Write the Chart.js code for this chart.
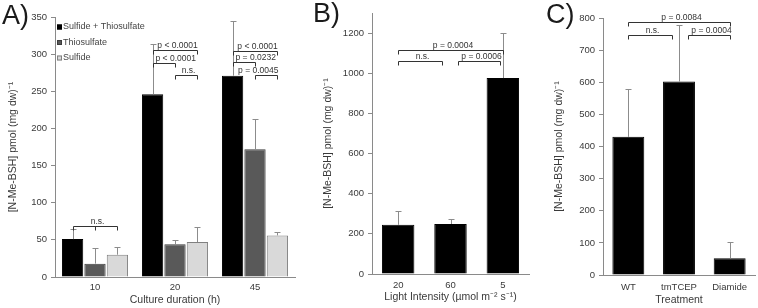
<!DOCTYPE html>
<html>
<head>
<meta charset="utf-8">
<script src="https://cdn.jsdelivr.net/npm/chart.js@4.4.1/dist/chart.umd.min.js"></script>
<style>
  body { margin: 0; background: #fff; width: 758px; height: 308px; position: relative; overflow: hidden;
         font-family: "Liberation Sans", Arial, sans-serif; }
  canvas { position: absolute; top: 0; }
  .tag { position: absolute; font-size: 27px; line-height: 1; color: #1a1a1a; }
</style>
</head>
<body>
<canvas id="chartA" width="300" height="308" style="left:0px"></canvas>
<canvas id="chartB" width="235" height="308" style="left:300px"></canvas>
<canvas id="chartC" width="223" height="308" style="left:535px"></canvas>
<div class="tag" style="left:2px;top:2px">A)</div>
<div class="tag" style="left:313px;top:0px">B)</div>
<div class="tag" style="left:546px;top:1px">C)</div>
<script>
// Panel A - culture duration
const durations = ["10", "20", "45"];
const bothValues = [51, 246, 271];
const bothErrors = [14, 68, 74];
const thioValues = [18, 44, 172];
const thioErrors = [21, 6, 41];
const sulfideValues = [30, 47, 56];
const sulfideErrors = [10, 20, 5];
const yTicksA = [0, 350, 50];

// Panel B - light intensity
const intensities = ["20", "60", "5"];
const lightValues = [245, 249, 976];
const lightErrors = [69, 25, 224];
const yTicksB = [0, 1200, 200];

// Panel C - treatment
const treatments = ["WT", "tmTCEP", "Diamide"];
const treatValues = [430, 602, 52];
const treatErrors = [148, 175, 50];
const yTicksC = [0, 800, 100];

// significance brackets: [category, dataset] ends, level in data units
const bracketsA = [
  {from: [0, 0], to: [0, 2], mid: [0, 1], level: 69, text: "n.s."},
  {from: [1, 0], to: [1, 2], level: 305, text: "p < 0.0001"},
  {from: [1, 0], to: [1, 1], level: 288, text: "p < 0.0001", align: "left"},
  {from: [1, 1], to: [1, 2], level: 272, text: "n.s."},
  {from: [2, 0], to: [2, 2], level: 304, text: "p < 0.0001"},
  {from: [2, 0], to: [2, 1], level: 289, text: "p = 0.0232", align: "left"},
  {from: [2, 1], to: [2, 2], level: 272, text: "p = 0.0045", align: "right"}
];
const bracketsB = [
  {from: [0, 0], to: [2, 0], level: 1115, text: "p = 0.0004"},
  {from: [0, 0], to: [1, 0], level: 1061, text: "n.s.", trimR: 9},
  {from: [1, 0], to: [2, 0], level: 1061, text: "p = 0.0006", trimL: 7, trimR: 3}
];
const bracketsC = [
  {from: [0, 0], to: [2, 0], level: 788, text: "p = 0.0084"},
  {from: [0, 0], to: [1, 0], level: 748, text: "n.s.", trimR: 7},
  {from: [1, 0], to: [2, 0], level: 748, text: "p = 0.0004", trimL: 9}
];

const FONT = "'Liberation Sans', Arial, sans-serif";
const TEXT = "#3a3a3a";
const AXIS = "#8a8a8a";

const errorBars = {
  id: "errorBars",
  afterDatasetsDraw(chart) {
    const ctx = chart.ctx, y = chart.scales.y;
    ctx.save();
    ctx.strokeStyle = "#8c8c8c";
    ctx.lineWidth = 1;
    chart.data.datasets.forEach((ds, i) => {
      const meta = chart.getDatasetMeta(i);
      meta.data.forEach((bar, j) => {
        const x = Math.round(bar.x) + 0.5;
        const y0 = y.getPixelForValue(ds.data[j]);
        const y1 = Math.round(y.getPixelForValue(ds.data[j] + ds.errors[j])) + 0.5;
        ctx.beginPath();
        ctx.moveTo(x, y0);
        ctx.lineTo(x, y1);
        ctx.moveTo(x - 3, y1);
        ctx.lineTo(x + 3, y1);
        ctx.stroke();
      });
    });
    ctx.restore();
  }
};

const brackets = {
  id: "brackets",
  afterDraw(chart, args, opts) {
    const ctx = chart.ctx, y = chart.scales.y;
    const px = (ref) => chart.getDatasetMeta(ref[1]).data[ref[0]].x;
    ctx.save();
    ctx.strokeStyle = "#333";
    ctx.fillStyle = "#333";
    ctx.lineWidth = 1;
    ctx.font = "8.5px " + FONT;
    ctx.textBaseline = "bottom";
    (opts.items || []).forEach(b => {
      const x1 = Math.round(px(b.from) + (b.trimL || 0)) + 0.5;
      const x2 = Math.round(px(b.to) - (b.trimR || 0)) + 0.5;
      const yy = Math.round(y.getPixelForValue(b.level)) + 0.5;
      ctx.beginPath();
      ctx.moveTo(x1, yy + 4); ctx.lineTo(x1, yy); ctx.lineTo(x2, yy); ctx.lineTo(x2, yy + 4);
      if (b.mid) {
        const xm = Math.round(px(b.mid)) + 0.5;
        ctx.moveTo(xm, yy); ctx.lineTo(xm, yy + 4);
      }
      ctx.stroke();
      if (b.align === "left") { ctx.textAlign = "left"; ctx.fillText(b.text, x1 + 2, yy - 1); }
      else if (b.align === "right") { ctx.textAlign = "right"; ctx.fillText(b.text, x2 + 1, yy - 1); }
      else { ctx.textAlign = "center"; ctx.fillText(b.text, (x1 + x2) / 2 + 2, yy - 1); }
    });
    ctx.restore();
  }
};

const boxLegend = {
  id: "boxLegend",
  afterDraw(chart, args, opts) {
    if (!opts.show) return;
    const ctx = chart.ctx, area = chart.chartArea;
    ctx.save();
    ctx.font = "9px " + FONT;
    ctx.textBaseline = "middle";
    ctx.textAlign = "left";
    chart.data.datasets.forEach((ds, i) => {
      const yy = area.top + 10 + i * 15.5;
      const x = area.left + 2;
      ctx.fillStyle = ds.backgroundColor;
      ctx.fillRect(x, yy - 2.5, 5, 5);
      ctx.strokeStyle = ds.borderColor;
      ctx.lineWidth = 1;
      ctx.strokeRect(x + 0.5, yy - 2, 4, 4);
      ctx.fillStyle = "#444";
      ctx.fillText(ds.label, x + 6, yy);
    });
    ctx.restore();
  }
};

function makeChart(id, cfg) {
  const [ymin, ymax, step] = cfg.yTicks;
  return new Chart(document.getElementById(id), {
    type: "bar",
    data: {labels: cfg.labels, datasets: cfg.datasets},
    plugins: [errorBars, brackets, boxLegend],
    options: {
      responsive: false,
      animation: false,
      devicePixelRatio: 1,
      layout: {padding: {left: 0, right: cfg.padRight, top: cfg.padTop, bottom: 0}},
      datasets: {bar: {categoryPercentage: cfg.catPct, barPercentage: cfg.barPct, borderWidth: 1}},
      plugins: {
        legend: {display: false},
        tooltip: {enabled: false},
        brackets: {items: cfg.brackets},
        boxLegend: {show: !!cfg.legend}
      },
      scales: {
        x: {
          grid: {display: false, drawTicks: false},
          border: {display: true, color: AXIS, width: 1},
          ticks: {color: TEXT, font: {family: FONT, size: 9.5}, padding: cfg.xTickPad, maxRotation: 0},
          title: {display: true, text: cfg.xTitle, color: TEXT, font: {family: FONT, size: 10.5},
                  padding: {top: 0, bottom: cfg.xTitlePad}},
          afterFit: s => { s.height = cfg.xHeight; }
        },
        y: {
          min: ymin,
          max: cfg.yAxisMax || ymax,
          grid: {display: true, drawOnChartArea: false, drawTicks: true, tickLength: 4, color: AXIS},
          border: {display: true, color: AXIS, width: 1},
          ticks: {stepSize: step, color: TEXT, font: {family: FONT, size: 9.5}, padding: 4,
                  callback: v => String(v)},
          afterBuildTicks: s => { s.ticks = s.ticks.filter(t => t.value <= ymax); },
          title: {display: true, text: "[N-Me-BSH] pmol (mg dw)\u207B\u00B9", color: TEXT,
                  font: {family: FONT, size: 10.5}, padding: {top: cfg.yTitlePad, bottom: 0}},
          afterFit: s => { s.width = cfg.yWidth; }
        }
      }
    }
  });
}

makeChart("chartA", {
  labels: durations,
  datasets: [
    {label: "Sulfide + Thiosulfate", data: bothValues, errors: bothErrors, backgroundColor: "#000000", borderColor: "#000000"},
    {label: "Thiosulfate", data: thioValues, errors: thioErrors, backgroundColor: "#595959", borderColor: "#3c3c3c"},
    {label: "Sulfide", data: sulfideValues, errors: sulfideErrors, backgroundColor: "#d9d9d9", borderColor: "#808080"}
  ],
  legend: true,
  brackets: bracketsA,
  yTicks: yTicksA,
  xTitle: "Culture duration (h)",
  catPct: 0.84, barPct: 0.95,
  padTop: 17, padRight: 5, yWidth: 55, xHeight: 31,
  yTitlePad: 7, xTitlePad: 2, xTickPad: 5
});

makeChart("chartB", {
  labels: intensities,
  datasets: [
    {label: "N-Me-BSH", data: lightValues, errors: lightErrors, backgroundColor: "#000000", borderColor: "#000000"}
  ],
  brackets: bracketsB,
  yTicks: yTicksB,
  yAxisMax: 1300,
  xTitle: "Light Intensity (\u00B5mol m\u207B\u00B2 s\u207B\u00B9)",
  catPct: 0.62, barPct: 1,
  padTop: 13, padRight: 6, yWidth: 72, xHeight: 34,
  yTitlePad: 22, xTitlePad: 5, xTickPad: 6
});

makeChart("chartC", {
  labels: treatments,
  datasets: [
    {label: "N-Me-BSH", data: treatValues, errors: treatErrors, backgroundColor: "#000000", borderColor: "#000000"}
  ],
  brackets: bracketsC,
  yTicks: yTicksC,
  xTitle: "Treatment",
  catPct: 0.63, barPct: 1,
  padTop: 18, padRight: 3, yWidth: 68, xHeight: 33,
  yTitlePad: 18, xTitlePad: 2, xTickPad: 7
});
</script>
</body>
</html>
